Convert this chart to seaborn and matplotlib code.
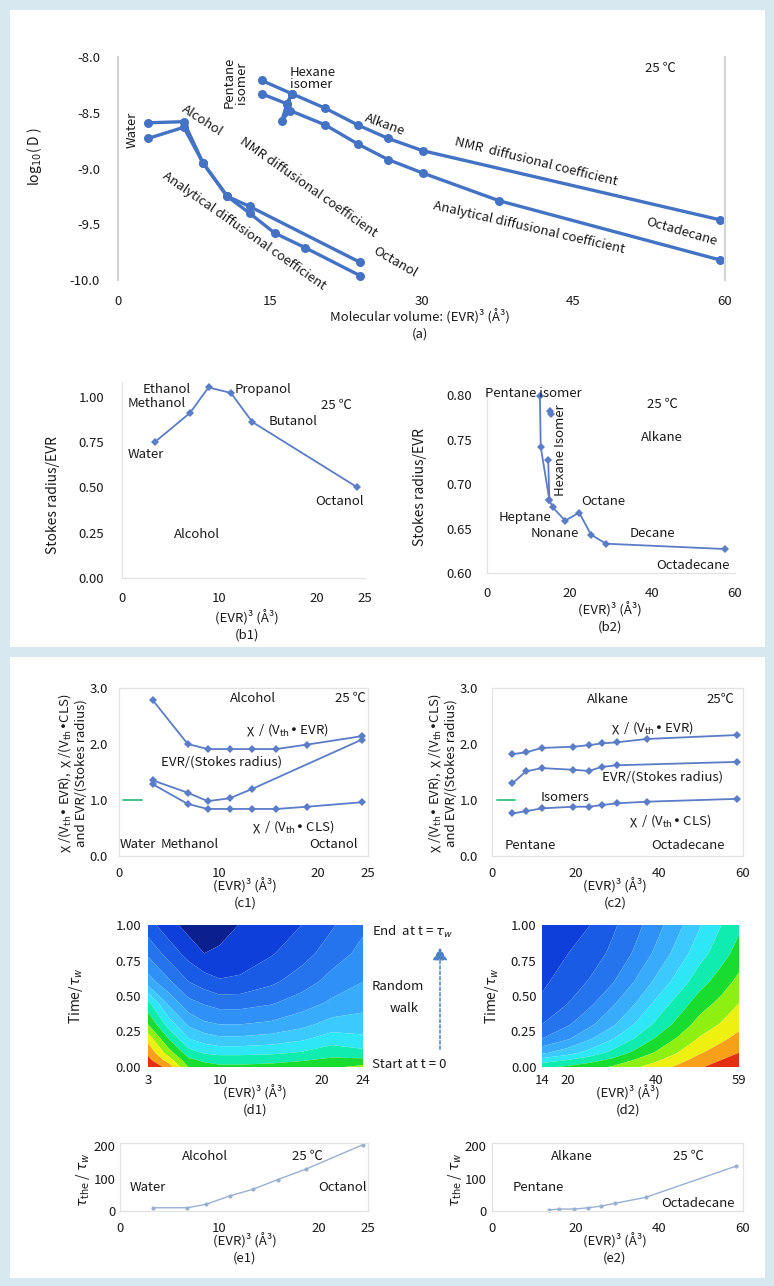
import numpy as np
import pandas as pd
import matplotlib
matplotlib.use("Agg")
import matplotlib.pyplot as plt
from matplotlib.colors import ListedColormap, BoundaryNorm
from matplotlib.patches import Rectangle, FancyArrowPatch
import seaborn as sns

# ---------------- data ----------------
# (a) log10(D) vs molecular volume (EVR)^3
alc_x_nmr = [3.0, 6.5, 8.4, 10.8, 13.0, 23.9]
alc_y_nmr = [-8.59, -8.58, -8.95, -9.25, -9.34, -9.84]
alc_x_ana = [3.0, 6.5, 8.4, 10.8, 13.0, 15.5, 18.5, 23.9]
alc_y_ana = [-8.73, -8.63, -8.95, -9.25, -9.40, -9.58, -9.71, -9.96]
alk_x_nmr = [14.2, 17.2, 16.7, 17.2, 20.5, 23.7, 26.7, 30.1, 59.5]
alk_y_nmr = [-8.21, -8.33, -8.42, -8.33, -8.46, -8.61, -8.73, -8.84, -9.46]
alk_x_ana = [14.2, 16.7, 16.2, 17.0, 20.5, 23.7, 26.7, 30.1, 37.7, 59.5]
alk_y_ana = [-8.33, -8.42, -8.57, -8.48, -8.61, -8.78, -8.92, -9.04, -9.29, -9.82]

# (b1) Stokes radius / EVR, alcohols
b1_x = [3.4, 7.0, 8.9, 11.2, 13.4, 24.2]
b1_y = [0.75, 0.91, 1.05, 1.02, 0.86, 0.50]
# (b2) Stokes radius / EVR, alkanes
b2_x = [12.8, 13.0, 15.1, 15.9, 18.9, 22.3, 25.2, 28.8, 57.6]
b2_y = [0.799, 0.742, 0.682, 0.674, 0.659, 0.668, 0.643, 0.633, 0.627]
b2_iso1_x = [15.3, 15.5]
b2_iso1_y = [0.783, 0.779]
b2_iso2_x = [14.8, 15.1]
b2_iso2_y = [0.727, 0.682]

# (c1) alcohols
c1_x = [3.4, 6.9, 8.9, 11.1, 13.4, 15.8, 18.9, 24.4]
c1_evr = [2.78, 2.00, 1.91, 1.91, 1.91, 1.91, 1.99, 2.14]
c1_cls = [1.28, 0.93, 0.84, 0.84, 0.84, 0.84, 0.88, 0.96]
c1_sto_x = [3.4, 6.9, 8.9, 11.1, 13.4, 24.4]
c1_sto = [1.35, 1.13, 0.98, 1.03, 1.20, 2.08]
# (c2) alkanes
c2_x = [4.9, 8.1, 11.9, 19.3, 23.2, 26.2, 29.8, 37.0, 58.5]
c2_evr = [1.82, 1.85, 1.93, 1.95, 1.98, 2.01, 2.03, 2.09, 2.16]
c2_cls = [0.76, 0.80, 0.85, 0.88, 0.88, 0.91, 0.94, 0.97, 1.02]
c2_sto_x = [4.9, 8.1, 11.9, 19.3, 23.2, 26.2, 29.8, 58.5]
c2_sto = [1.30, 1.51, 1.57, 1.54, 1.52, 1.59, 1.62, 1.68]
ref_x1 = [0.4, 2.3]
ref_x2 = [1.2, 5.5]
ref_y = [1.0, 1.0]

# (d1), (d2) contour band index (columns = x, rows = time)
d_t = [0.0, 0.05, 0.1, 0.2, 0.3, 0.45, 0.6, 0.8, 1.0]
d1_x = [3, 5, 7, 8.5, 10, 12, 15, 18, 21, 24]
d1_cols = [
    [13.99, 13.3, 12.8, 11.6, 10.0, 8.3, 5.5, 3.8, 2.4],
    [12.6, 11.5, 10.5, 9.0, 7.6, 5.8, 4.2, 2.6, 1.4],
    [9.9, 9.2, 8.4, 7.0, 5.8, 4.3, 3.0, 1.6, 0.6],
    [9.4, 8.8, 7.9, 6.5, 5.2, 3.9, 2.5, 1.0, 0.2],
    [9.2, 8.6, 7.7, 6.2, 5.0, 3.6, 2.1, 1.2, 0.5],
    [9.2, 8.6, 7.7, 6.2, 5.0, 3.6, 2.2, 1.4, 1.05],
    [9.3, 8.7, 7.8, 6.4, 5.2, 3.9, 2.8, 1.9, 1.4],
    [9.5, 8.9, 8.1, 6.8, 5.7, 4.5, 3.5, 2.6, 2.0],
    [9.8, 9.2, 8.6, 7.5, 6.4, 5.2, 4.4, 3.5, 2.9],
    [10.3, 9.2, 8.3, 7.2, 6.5, 5.6, 5.0, 4.3, 3.8],
]
d2_x = [14, 20, 25, 30, 35, 40, 45, 50, 55, 59]
d2_cols = [
    [8.8, 7.4, 5.8, 4.0, 3.0, 2.2, 1.8, 1.5, 1.2],
    [9.2, 8.0, 6.6, 4.9, 3.9, 3.0, 2.5, 2.0, 1.6],
    [9.6, 8.6, 7.4, 5.9, 4.8, 3.8, 3.1, 2.5, 2.0],
    [10.1, 9.2, 8.3, 6.9, 5.8, 4.8, 3.9, 3.2, 2.8],
    [10.8, 10.0, 9.2, 8.0, 7.0, 5.9, 5.0, 4.1, 3.6],
    [11.5, 10.8, 10.1, 9.1, 8.2, 7.2, 6.2, 5.2, 4.6],
    [12.2, 11.6, 11.0, 10.1, 9.3, 8.4, 7.4, 6.4, 5.7],
    [12.9, 12.4, 11.9, 11.1, 10.4, 9.5, 8.6, 7.6, 6.9],
    [13.4, 13.0, 12.5, 11.8, 11.1, 10.3, 9.5, 8.6, 8.0],
    [13.8, 13.4, 13.0, 12.3, 11.7, 11.0, 10.3, 9.4, 8.8],
]
band_colors = ["#0b1f8f", "#0e3fd8", "#1a5be6", "#2574ee", "#2f90f6", "#38acfa",
               "#3ccafc", "#2ee6f6", "#10ecb0", "#18dc30", "#8ef010", "#eef010",
               "#f8a018", "#e43010"]

# (e1), (e2) tau_the / tau_w
e1_x = [3.3, 6.8, 8.7, 11.1, 13.4, 15.9, 18.8, 24.5]
e1_y = [10, 10, 21, 47, 67, 97, 130, 205]
e2_x = [13.6, 16.1, 19.7, 23.0, 26.0, 29.5, 36.7, 58.4]
e2_y = [3, 6, 6, 10, 15, 24, 42, 139]

# ---------------- style ----------------
sns.set_theme(style="white")
plt.rcParams["font.family"] = ["Noto Sans CJK JP", "DejaVu Sans"]
plt.rcParams["mathtext.fontset"] = "dejavusans"
plt.rcParams["axes.unicode_minus"] = False

W, H = 774, 1286
FS = 9.5
TXT = "#1a1a1a"
BG = "#d7e8f1"
fig = plt.figure(figsize=(W / 100, H / 100), dpi=100)
fig.patch.set_facecolor(BG)
for (l, t, r, b) in [(10, 10, 765, 647), (10, 657, 765, 1278)]:
    fig.add_artist(Rectangle((l / W, 1 - b / H), (r - l) / W, (b - t) / H,
                             transform=fig.transFigure, facecolor="white",
                             edgecolor="none", zorder=-5))


def px_ax(box):
    l, t, r, b = box
    ax = fig.add_axes([l / W, 1 - b / H, (r - l) / W, (b - t) / H])
    ax.set_facecolor("none")
    return ax


def frame(ax, sides=("left", "right", "top", "bottom"), color="#e2e2e2", lw=0.9):
    for s, sp in ax.spines.items():
        sp.set_visible(s in sides)
        sp.set_color(color)
        sp.set_linewidth(lw)


def labels(ax, box, xl, xl_px, yl, yl_px, ls=1.35, yfs=FS + 0.5):
    l, t, r, b = box
    ax.set_xlabel(xl, fontsize=FS, linespacing=ls, color=TXT)
    ax.xaxis.label.set_va("center")
    ax.xaxis.set_label_coords((xl_px[0] - l) / (r - l), (b - xl_px[1]) / (b - t))
    ax.set_ylabel(yl, fontsize=yfs, color=TXT, linespacing=1.15)
    ax.yaxis.label.set_va("center")
    ax.yaxis.set_label_coords((yl_px[0] - l) / (r - l), (b - yl_px[1]) / (b - t))


def ticks(ax, xpad, ypad, size=FS):
    ax.tick_params(axis="both", length=0, labelsize=size, colors=TXT)
    ax.tick_params(axis="x", pad=xpad)
    ax.tick_params(axis="y", pad=ypad)


def note(ax, x, y, s, rot=0, ha="center", fs=FS, **kw):
    ax.text(x, y, s, ha=ha, va="center", rotation=rot, rotation_mode="anchor",
            fontsize=fs, color=TXT, **kw)


def line(ax, x, y, color, lw, ms, marker="o"):
    sns.lineplot(x=x, y=y, ax=ax, sort=False, estimator=None, color=color,
                 linewidth=lw, marker=marker, markersize=ms, markeredgewidth=0,
                 clip_on=False)


XLAB = "(EVR)³ (Å³)"

# ---------------- (a) ----------------
box_a = (118, 57, 725, 280)
ax = px_ax(box_a)
C_A = "#4472c4"
for xs, ys in [(alc_x_nmr, alc_y_nmr), (alc_x_ana, alc_y_ana),
               (alk_x_nmr, alk_y_nmr), (alk_x_ana, alk_y_ana)]:
    line(ax, xs, ys, C_A, 2.4, 6.5)
ax.set_xlim(0, 60)
ax.set_ylim(-10, -8)
ax.set_xticks([0, 15, 30, 45, 60])
ax.set_yticks([-10, -9.5, -9, -8.5, -8])
ax.yaxis.set_major_formatter(matplotlib.ticker.FormatStrFormatter("%.1f"))
frame(ax, ("left", "right"), color="#d4d4d4", lw=1.6)
ticks(ax, 11, 13)
labels(ax, box_a, "Molecular volume: " + XLAB + "\n(a)", (420, 325),
       r"log$_{10}$( D )", (35, 157))
note(ax, 1.4, -8.65, "Water", rot=90)
note(ax, 8.3, -8.57, "Alcohol", rot=-33)
note(ax, 18.8, -9.17, "NMR diffusional coefficient", rot=-35)
note(ax, 12.5, -9.56, "Analytical diffusional coefficient", rot=-35)
note(ax, 27.4, -9.84, "Octanol", rot=-30)
note(ax, 11.6, -8.23, "Pentane\nisomer", rot=90, linespacing=0.9)
note(ax, 17.0, -8.19, "Hexane\nisomer", ha="left", linespacing=0.9)
note(ax, 26.4, -8.61, "Alkane", rot=-20)
note(ax, 41.3, -8.94, "NMR  diffusional coefficient", rot=-14)
note(ax, 40.6, -9.53, "Analytical diffusional coefficient", rot=-13)
note(ax, 55.7, -9.57, "Octadecane", rot=-16)
note(ax, 53.6, -8.10, "25 ℃")

C_L = "#5b7cc6"
# ---------------- (b1) ----------------
box_b1 = (122, 382, 365, 578)
ax = px_ax(box_b1)
line(ax, b1_x, b1_y, C_L, 1.3, 4, marker="D")
ax.set_xlim(0, 25)
ax.set_ylim(0, 1.08)
ax.set_xticks([0, 10, 20, 25])
ax.set_yticks([0, 0.25, 0.5, 0.75, 1.0])
ax.yaxis.set_major_formatter(matplotlib.ticker.FormatStrFormatter("%.2f"))
frame(ax, ("left", "bottom"))
ticks(ax, 10, 13)
labels(ax, box_b1, XLAB + "\n(b1)", (247, 626), "Stokes radius/EVR", (53, 495))
note(ax, 4.6, 1.04, "Ethanol")
note(ax, 14.5, 1.04, "Propanol")
note(ax, 3.6, 0.96, "Methanol")
note(ax, 22.1, 0.95, "25 ℃")
note(ax, 17.6, 0.86, "Butanol")
note(ax, 2.4, 0.68, "Water")
note(ax, 22.4, 0.42, "Octanol")
note(ax, 7.7, 0.24, "Alcohol")

# ---------------- (b2) ----------------
box_b2 = (487, 391, 735, 573)
ax = px_ax(box_b2)
line(ax, b2_x, b2_y, C_L, 1.3, 4, marker="D")
line(ax, b2_iso1_x, b2_iso1_y, C_L, 1.3, 4, marker="D")
line(ax, b2_iso2_x, b2_iso2_y, C_L, 1.3, 4, marker="D")
ax.set_xlim(0, 60)
ax.set_ylim(0.60, 0.805)
ax.set_xticks([0, 20, 40, 60])
ax.set_yticks([0.60, 0.65, 0.70, 0.75, 0.80])
ax.yaxis.set_major_formatter(matplotlib.ticker.FormatStrFormatter("%.2f"))
frame(ax, ("left", "bottom"))
ticks(ax, 10, 11)
labels(ax, box_b2, XLAB + "\n(b2)", (610, 618), "Stokes radius/EVR", (420, 487))
note(ax, 11.1, 0.802, "Pentane isomer")
note(ax, 42.4, 0.79, "25 ℃")
note(ax, 42.4, 0.753, "Alkane")
note(ax, 17.7, 0.738, "Hexane Isomer", rot=90)
note(ax, 28.1, 0.681, "Octane")
note(ax, 9.2, 0.663, "Heptane")
note(ax, 16.5, 0.645, "Nonane")
note(ax, 40.0, 0.645, "Decane")
note(ax, 49.9, 0.609, "Octadecane")

YLAB_C = ("χ /(V$_{\\rm th}$• EVR),  χ /(V$_{\\rm th}$•CLS)\n"
          "and EVR/(Stokes radius)")
EVR_T = "χ  / (V$_{\\rm th}$• EVR)"
CLS_T = "χ  / (V$_{\\rm th}$• CLS)"
GREEN = "#2fbf7f"
# ---------------- (c1) ----------------
box_c1 = (119, 688, 368, 856)
ax = px_ax(box_c1)
line(ax, c1_x, c1_evr, C_L, 1.3, 4, marker="D")
line(ax, c1_sto_x, c1_sto, C_L, 1.3, 4, marker="D")
line(ax, c1_x, c1_cls, C_L, 1.3, 4, marker="D")
sns.lineplot(x=ref_x1, y=ref_y, ax=ax, color=GREEN, linewidth=1.3)
ax.set_xlim(0, 25)
ax.set_ylim(0, 3)
ax.set_xticks([0, 10, 20, 25])
ax.set_yticks([0, 1, 2, 3])
ax.yaxis.set_major_formatter(matplotlib.ticker.FormatStrFormatter("%.1f"))
frame(ax)
ticks(ax, 8, 8)
labels(ax, box_c1, XLAB + "\n(c1)", (245, 894), YLAB_C, (72, 773), yfs=FS)
note(ax, 13.4, 2.82, "Alcohol")
note(ax, 23.2, 2.82, "25 ℃")
note(ax, 16.9, 2.25, EVR_T)
note(ax, 10.3, 1.68, "EVR/(Stokes radius)")
note(ax, 17.5, 0.52, CLS_T)
note(ax, 1.9, 0.20, "Water")
note(ax, 7.1, 0.20, "Methanol")
note(ax, 21.5, 0.20, "Octanol")

# ---------------- (c2) ----------------
box_c2 = (492, 688, 743, 856)
ax = px_ax(box_c2)
line(ax, c2_x, c2_evr, C_L, 1.3, 4, marker="D")
line(ax, c2_sto_x, c2_sto, C_L, 1.3, 4, marker="D")
line(ax, c2_x, c2_cls, C_L, 1.3, 4, marker="D")
sns.lineplot(x=ref_x2, y=ref_y, ax=ax, color=GREEN, linewidth=1.3)
ax.set_xlim(0, 60)
ax.set_ylim(0, 3)
ax.set_xticks([0, 20, 40, 60])
ax.set_yticks([0, 1, 2, 3])
ax.yaxis.set_major_formatter(matplotlib.ticker.FormatStrFormatter("%.1f"))
frame(ax)
ticks(ax, 8, 10)
labels(ax, box_c2, XLAB + "\n(c2)", (615, 894), YLAB_C, (442, 773), yfs=FS)
note(ax, 27.8, 2.79, "Alkane")
note(ax, 54.5, 2.79, "25℃")
note(ax, 38.3, 2.29, EVR_T)
note(ax, 40.7, 1.41, "EVR/(Stokes radius)")
note(ax, 17.5, 1.05, "Isomers")
note(ax, 42.6, 0.64, CLS_T)
note(ax, 9.1, 0.18, "Pentane")
note(ax, 46.9, 0.18, "Octadecane")

# ---------------- (d1), (d2) ----------------
cmap = ListedColormap(band_colors)
levels = np.arange(0, len(band_colors) + 1)
norm = BoundaryNorm(levels, cmap.N)
for box, xs, cols, xt, tag, lab_x, ylab_x, ypad in [
        ((148, 925, 363, 1067), d1_x, d1_cols, [3, 10, 20, 24], "(d1)", 255, 76, 5),
        ((542, 925, 739, 1067), d2_x, d2_cols, [14, 20, 40, 59], "(d2)", 628, 492, 4)]:
    ax = px_ax(box)
    Z = np.array(cols).T
    ax.contourf(xs, d_t, np.clip(Z, 0, 13.99), levels=levels, cmap=cmap, norm=norm,
                antialiased=True)
    ax.set_xlim(xs[0], xs[-1])
    ax.set_ylim(0, 1)
    ax.set_xticks(xt)
    ax.set_yticks([0, 0.25, 0.5, 0.75, 1.0])
    ax.yaxis.set_major_formatter(matplotlib.ticker.FormatStrFormatter("%.2f"))
    frame(ax, ())
    ticks(ax, 5, ypad)
    labels(ax, box, XLAB + "\n" + tag, (lab_x, 1101), r"Time/$\tau_{w}$", (ylab_x, 996))

fig.text(372 / W, 1 - 932 / H, r"End  at t = $\tau_{w}$", ha="left", va="center",
         fontsize=FS, color=TXT)
fig.text(372 / W, 1 - 987 / H, "Random", ha="left", va="center", fontsize=FS, color=TXT)
fig.text(390 / W, 1 - 1009 / H, "walk", ha="left", va="center", fontsize=FS, color=TXT)
fig.text(372 / W, 1 - 1064 / H, "Start at t = 0", ha="left", va="center",
         fontsize=FS, color=TXT)
fig.add_artist(FancyArrowPatch((440 / W, 1 - 1052 / H), (440 / W, 1 - 945 / H),
                               transform=fig.transFigure, arrowstyle="-|>,head_length=5,head_width=3",
                               linestyle=(0, (2, 1.5)), color="#4a80c4", linewidth=1.1,
                               mutation_scale=1.5))

# ---------------- (e1), (e2) ----------------
C_E = "#9ab0d0"
YLAB_E = r"$\tau_{\rm the}$ / $\tau_{w}$"
box_e1 = (120, 1143, 368, 1211)
ax = px_ax(box_e1)
line(ax, e1_x, e1_y, C_E, 1.0, 3)
ax.set_xlim(0, 25)
ax.set_ylim(0, 210)
ax.set_xticks([0, 10, 20, 25])
ax.set_yticks([0, 100, 200])
frame(ax)
ticks(ax, 8, 3)
labels(ax, box_e1, XLAB + "\n(e1)", (245, 1249), YLAB_E, (83, 1180))
note(ax, 8.6, 169, "Alcohol")
note(ax, 18.9, 169, "25 ℃")
note(ax, 2.8, 74, "Water")
note(ax, 22.4, 74, "Octanol")

box_e2 = (492, 1143, 743, 1211)
ax = px_ax(box_e2)
line(ax, e2_x, e2_y, C_E, 1.0, 3)
ax.set_xlim(0, 60)
ax.set_ylim(0, 210)
ax.set_xticks([0, 20, 40, 60])
ax.set_yticks([0, 100, 200])
frame(ax)
ticks(ax, 8, 4)
labels(ax, box_e2, XLAB + "\n(e2)", (615, 1249), YLAB_E, (455, 1180))
note(ax, 19.1, 169, "Alkane")
note(ax, 46.9, 169, "25 ℃")
note(ax, 11.0, 74, "Pentane")
note(ax, 49.3, 22, "Octadecane")

fig.savefig("out.png", dpi=100, facecolor=fig.get_facecolor())
